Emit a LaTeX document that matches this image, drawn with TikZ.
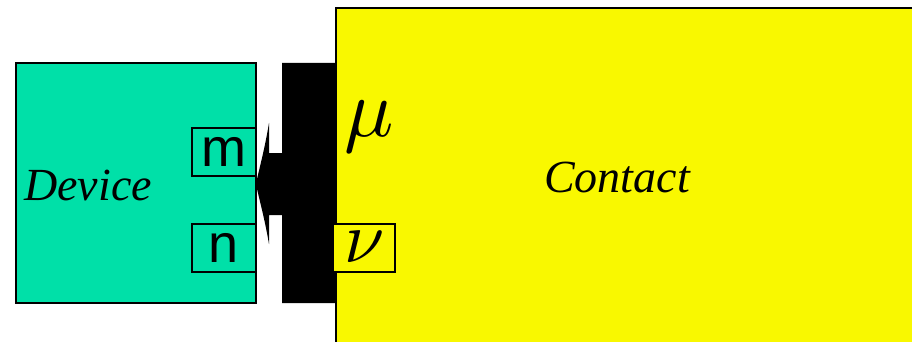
\documentclass[tikz,border=0pt]{standalone}
\usepackage{fontspec}
\setmainfont{Liberation Serif}
\newfontfamily\arialfont{Liberation Sans}
\definecolor{devgreen}{RGB}{0,224,168}
\definecolor{conyellow}{RGB}{249,248,0}
\begin{document}
\begin{tikzpicture}[x=1pt,y=-1pt,
  box/.style={draw=black,line width=2pt,inner sep=0pt,outer sep=0pt},
  port/.style={box,line width=1.5pt,minimum width=64pt,minimum height=48pt,font=\arialfont\fontsize{54}{54}\selectfont},
  bigital/.style={font=\itshape\fontsize{46}{46}\selectfont},
  greek/.style={inner sep=0pt,anchor=base,scale=8.2}]
\useasboundingbox (0,0) rectangle (912,342);
\clip (0,0) rectangle (912,342);
\fill[white] (0,0) rectangle (912,342);
% contact
\node[box,fill=conyellow,minimum width=640pt,minimum height=400pt,anchor=north west] (contact) at (336,8) {};
\node[bigital] (contactlbl) at (617,178) {Contact};
% device
\node[box,fill=devgreen,minimum width=240pt,minimum height=240pt] (device) at (136,183) {};
\node[bigital] (devicelbl) at (88,185) {Device};
\node[port] (m) at (224,152) {m};
\node[port] (n) at (224,248) {n};
% black contact block with arrow
\fill[black] (282,63) -- (336,63) -- (336,303) -- (282,303) -- (282,215) -- (269,215) -- (269,244)
  .. controls (264,215) and (258,195) .. (256,184)
  .. controls (258,173) and (264,153) .. (269,123) -- (269,153) -- (282,153) -- cycle;
% labels mu and nu
\node[fill=conyellow,draw=black,line width=1.2pt,inner sep=0pt,minimum width=62pt,minimum height=48pt] (nubox) at (364,248) {};
\node[greek] (mu) at (369,136) {$\mu$};
\node[greek,scale=0.88] (nu) at (365,262) {$\nu$};
\end{tikzpicture}
\end{document}
